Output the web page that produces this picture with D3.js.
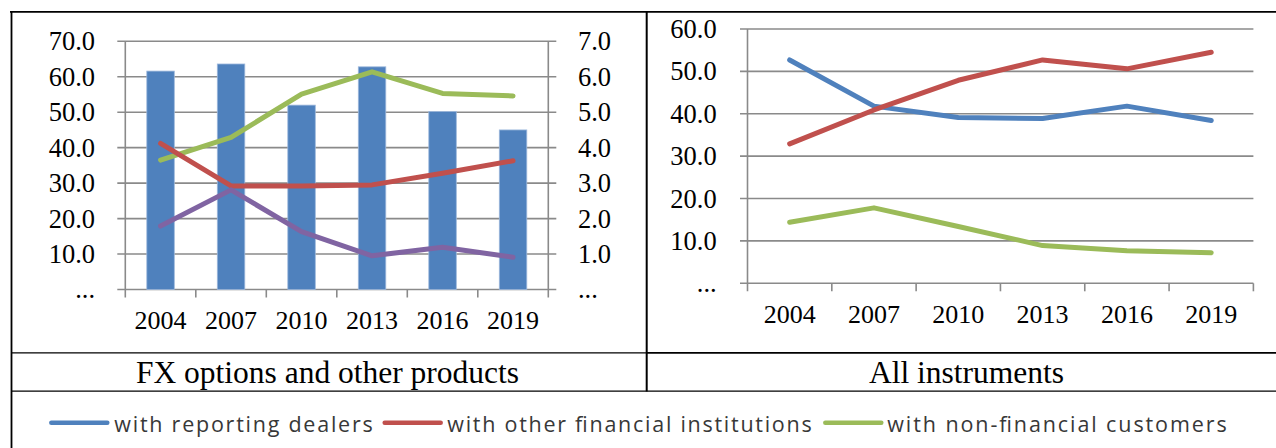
<!DOCTYPE html>
<html>
<head>
<meta charset="utf-8">
<script src="https://cdn.jsdelivr.net/npm/d3@7"></script>
<style>
  html, body { margin: 0; padding: 0; background: #fff; }
  svg { display: block; }
</style>
</head>
<body>
<svg id="chart" width="1276" height="448"></svg>
<script>
// ---------- data ----------
const years = ["2004", "2007", "2010", "2013", "2016", "2019"];

// Left panel: FX options and other products
const fxReportingDealers = [61.6, 63.6, 52.0, 62.8, 50.2, 45.0];      // bars, left axis
const fxOtherFinancial   = [4.12, 2.92, 2.92, 2.95, 3.28, 3.63];      // right axis
const fxNonFinancial     = [3.65, 4.29, 5.51, 6.14, 5.53, 5.46];      // right axis
const fxOtherSeries      = [1.79, 2.81, 1.63, 0.95, 1.19, 0.91];      // right axis (purple)

// Right panel: All instruments
const allReportingDealers = [52.7, 41.8, 39.1, 38.9, 41.8, 38.4];
const allOtherFinancial   = [32.9, 40.9, 47.9, 52.7, 50.6, 54.5];
const allNonFinancial     = [14.4, 17.8, 13.4, 8.9, 7.7, 7.2];

const leftTicks  = [0, 10, 20, 30, 40, 50, 60, 70];
const rightTicks = [0, 1, 2, 3, 4, 5, 6, 7];
const allTicks   = [0, 10, 20, 30, 40, 50, 60];

const panelTitles = ["FX options and other products", "All instruments"];
const legendLabels = ["with reporting dealers", "with other financial institutions", "with non-financial customers"];

// ---------- styles ----------
const C = { blue: "#4F81BD", red: "#C0504D", green: "#9BBB59", purple: "#8064A2", grid: "#8a8a8a" };
const serif = "'Liberation Serif', 'Times New Roman', serif";
const fmt = d => d === 0 ? "..." : d.toFixed(1);

const svg = d3.select("#chart");

// ---------- table frame ----------
const frame = svg.append("g").attr("stroke", "#000").attr("fill", "none");
frame.append("line").attr("x1", 10).attr("x2", 1276).attr("y1", 11.8).attr("y2", 11.8).attr("stroke-width", 1.8);
frame.append("line").attr("x1", 11.5).attr("x2", 11.5).attr("y1", 11).attr("y2", 448).attr("stroke-width", 1.8);
frame.append("line").attr("x1", 646.7).attr("x2", 646.7).attr("y1", 11).attr("y2", 391.5).attr("stroke-width", 2);
frame.append("line").attr("x1", 11).attr("x2", 646).attr("y1", 352.8).attr("y2", 352.8).attr("stroke-width", 1.2);
frame.append("line").attr("x1", 646).attr("x2", 1276).attr("y1", 352.8).attr("y2", 352.8).attr("stroke-width", 1.8);
frame.append("line").attr("x1", 11).attr("x2", 1276).attr("y1", 391.2).attr("y2", 391.2).attr("stroke-width", 1.2);

// ---------- helpers ----------
function styleAxisText(g, size) {
  g.select(".domain").remove();
  g.selectAll(".tick line").remove();
  g.selectAll("text").attr("font-family", serif).attr("font-size", size).attr("fill", "#000");
}

function drawLine(g, x, y, values, color) {
  const line = d3.line()
    .x((d, i) => x(years[i]) + x.bandwidth() / 2)
    .y(d => y(d));
  g.append("path")
    .datum(values)
    .attr("d", line)
    .attr("fill", "none")
    .attr("stroke", color)
    .attr("stroke-width", 5)
    .attr("stroke-linejoin", "round")
    .attr("stroke-linecap", "round");
}

// ---------- left panel ----------
{
  const g = svg.append("g");
  const x0 = 125.3, x1 = 548.3, yTop = 41.3, yBot = 289.5;
  const x = d3.scaleBand().domain(years).range([x0, x1]).padding(0);
  const yL = d3.scaleLinear().domain([0, 70]).range([yBot, yTop]);
  const yR = d3.scaleLinear().domain([0, 7]).range([yBot, yTop]);

  g.append("g").selectAll("line").data(leftTicks).join("line")
    .attr("x1", x0 - 8).attr("x2", x1 + 8)
    .attr("y1", d => yL(d)).attr("y2", d => yL(d))
    .attr("stroke", C.grid).attr("stroke-width", 1.6);
  [x0, x1].forEach(xx => g.append("line")
    .attr("x1", xx).attr("x2", xx).attr("y1", yTop).attr("y2", yBot + 8)
    .attr("stroke", C.grid).attr("stroke-width", 1.6));
  const bounds = years.map(d => x(d)).concat([x1]);
  g.append("g").selectAll("line").data(bounds.slice(1, -1)).join("line")
    .attr("x1", d => d).attr("x2", d => d).attr("y1", yBot).attr("y2", yBot + 8)
    .attr("stroke", C.grid).attr("stroke-width", 1.6);

  const bw = x.bandwidth() * 0.39;
  g.append("g").selectAll("rect").data(fxReportingDealers).join("rect")
    .attr("x", (d, i) => x(years[i]) + x.bandwidth() / 2 - bw / 2)
    .attr("width", bw)
    .attr("y", d => yL(d))
    .attr("height", d => yBot - yL(d))
    .attr("fill", C.blue)
    .attr("stroke", "#9db8dc")
    .attr("stroke-width", 0.8);

  drawLine(g, x, yR, fxNonFinancial, C.green);
  drawLine(g, x, yR, fxOtherFinancial, C.red);
  drawLine(g, x, yR, fxOtherSeries, C.purple);

  g.append("g").attr("transform", `translate(${x0},0)`)
    .call(d3.axisLeft(yL).tickValues(leftTicks).tickFormat(fmt).tickSize(0).tickPadding(30.3))
    .call(a => styleAxisText(a, 26.5));
  g.append("g").attr("transform", `translate(${x1},0)`)
    .call(d3.axisRight(yR).tickValues(rightTicks).tickFormat(fmt).tickSize(0).tickPadding(29.7))
    .call(a => styleAxisText(a, 26.5));
  g.append("g").attr("transform", `translate(0,${yBot})`)
    .call(d3.axisBottom(x).tickSize(0).tickPadding(21))
    .call(a => styleAxisText(a, 26));
}

// ---------- right panel ----------
{
  const g = svg.append("g");
  const x0 = 747.5, x1 = 1253.4, yTop = 29, yBot = 283.3;
  const x = d3.scaleBand().domain(years).range([x0, x1]).padding(0);
  const y = d3.scaleLinear().domain([0, 60]).range([yBot, yTop]);

  g.append("g").selectAll("line").data(allTicks).join("line")
    .attr("x1", x0 - 7.5).attr("x2", x1)
    .attr("y1", d => y(d)).attr("y2", d => y(d))
    .attr("stroke", C.grid).attr("stroke-width", 1.6);
  g.append("line").attr("x1", x0).attr("x2", x0).attr("y1", yTop).attr("y2", yBot + 8)
    .attr("stroke", C.grid).attr("stroke-width", 1.6);
  const bounds = years.map(d => x(d)).concat([x1]);
  g.append("g").selectAll("line").data(bounds.slice(1)).join("line")
    .attr("x1", d => d).attr("x2", d => d).attr("y1", yBot).attr("y2", yBot + 8)
    .attr("stroke", C.grid).attr("stroke-width", 1.6);

  drawLine(g, x, y, allReportingDealers, C.blue);
  drawLine(g, x, y, allOtherFinancial, C.red);
  drawLine(g, x, y, allNonFinancial, C.green);

  g.append("g").attr("transform", `translate(${x0},0)`)
    .call(d3.axisLeft(y).tickValues(allTicks).tickFormat(fmt).tickSize(0).tickPadding(30.8))
    .call(a => styleAxisText(a, 26.5));
  g.append("g").attr("transform", `translate(0,${yBot})`)
    .call(d3.axisBottom(x).tickSize(0).tickPadding(21.5))
    .call(a => styleAxisText(a, 26));
}

// ---------- panel titles ----------
const titleX = [327.5, 966.5];
svg.append("g").selectAll("text").data(panelTitles).join("text")
  .attr("x", (d, i) => titleX[i])
  .attr("y", 383.3)
  .attr("text-anchor", "middle")
  .attr("font-family", serif)
  .attr("font-size", 31.5)
  .attr("fill", "#000")
  .text(d => d);

// ---------- legend ----------
const legColors = [C.blue, C.red, C.green];
const legLineX = [49.3, 382.7, 823.3];
const legTextX = [114.3, 447.3, 887.3];
const legTextW = [258.4, 364.4, 339.4];
const leg = svg.append("g");
legendLabels.forEach((lab, i) => {
  leg.append("line")
    .attr("x1", legLineX[i] + 2).attr("x2", legLineX[i] + 58)
    .attr("y1", 422.8).attr("y2", 422.8)
    .attr("stroke", legColors[i]).attr("stroke-width", 4.5)
    .attr("stroke-linecap", "round");
  leg.append("text")
    .attr("x", legTextX[i]).attr("y", 431.5)
    .attr("font-family", "'Open Sans', 'Noto Sans', sans-serif")
    .attr("font-size", 21.5)
    .attr("fill", "#383838")
    .attr("textLength", legTextW[i])
    .attr("lengthAdjust", "spacing")
    .text(lab);
});
</script>
</body>
</html>
